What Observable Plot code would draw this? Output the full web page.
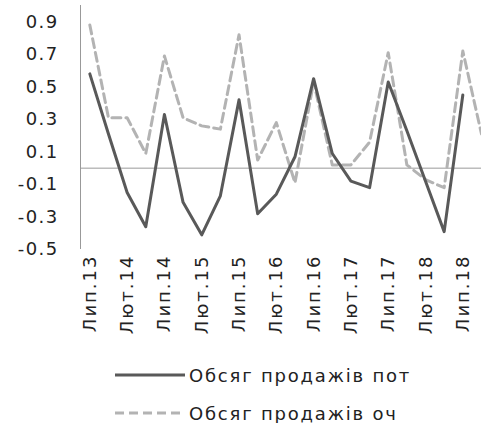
<!DOCTYPE html>
<html>
<head>
<meta charset="utf-8">
<script src="https://cdn.jsdelivr.net/npm/d3@7"></script>
<script src="https://cdn.jsdelivr.net/npm/@observablehq/plot@0.6"></script>
<style>
  body { margin: 0; background: #fff; font-family: "DejaVu Sans", Verdana, sans-serif; }
  #legend { margin-top: 11px; padding-left: 115px; color: #222; font-size: 18px; letter-spacing: 1.8px; }
  .row { display: flex; align-items: center; height: 38px; }
  .row svg { margin-right: 4px; }
</style>
</head>
<body>
<div id="chart"></div>
<div id="legend"></div>
<script>
const categories = ["Лип.13","Жов.13","Лют.14","Кві.14","Лип.14","Жов.14","Лют.15","Кві.15","Лип.15","Жов.15","Лют.16","Кві.16","Лип.16","Жов.16","Лют.17","Кві.17","Лип.17","Жов.17","Лют.18","Кві.18","Лип.18","Жов.18"];
const potValues = [0.58,0.21,-0.15,-0.36,0.33,-0.21,-0.41,-0.17,0.42,-0.28,-0.16,0.07,0.55,0.09,-0.08,-0.12,0.53,0.23,-0.08,-0.39,0.45,null];
const ochValues = [0.88,0.31,0.31,0.09,0.69,0.31,0.26,0.24,0.82,0.05,0.28,-0.09,0.53,0.02,0.02,0.16,0.71,0.02,-0.07,-0.12,0.72,0.21];
const seriesNames = ["Обсяг продажів пот", "Обсяг продажів оч"];
const yTicks = [-0.5,-0.3,-0.1,0.1,0.3,0.5,0.7,0.9];

const pot = potValues.map((v,i) => ({i, v})).filter(d => d.v != null);
const och = ochValues.map((v,i) => ({i, v})).filter(d => d.v != null);
const xTicks = categories.map((c,i) => i).filter(i => i % 2 === 0);

const chart = Plot.plot({
  width: 481,
  height: 345,
  marginLeft: 80,
  marginRight: 0,
  marginTop: 5,
  marginBottom: 96,
  style: { fontFamily: "DejaVu Sans, Verdana, sans-serif", fontSize: "18px", color: "#222", background: "#fff" },
  x: { type: "linear", domain: [-0.5, categories.length - 0.5], range: [80, 80 + categories.length * 18.65], axis: null },
  y: { domain: [-0.5, 1.0], axis: null },
  marks: [
    Plot.ruleX([-0.5], { x: d => d, stroke: "#999", strokeWidth: 1 }),
    Plot.ruleY([0], { y: d => d, stroke: "#999", strokeWidth: 1 }),
    Plot.text(yTicks, { y: d => d, text: d => d.toFixed(1), frameAnchor: "left", textAnchor: "end", dx: -22, fill: "#222", fontSize: 18 }),
    Plot.text(xTicks, { x: d => d, text: d => categories[d], frameAnchor: "bottom", textAnchor: "end", rotate: -90, dy: 5, dx: 6, fill: "#222", fontSize: 18 }),
    Plot.line(och, { x: "i", y: "v", stroke: "#b3b3b3", strokeWidth: 3, strokeDasharray: "9,5" }),
    Plot.line(pot, { x: "i", y: "v", stroke: "#595959", strokeWidth: 3 })
  ]
});
chart.querySelectorAll("g[aria-label='text']").forEach((g, k) => { g.style.letterSpacing = k === 0 ? "1.4px" : "2px"; });
document.getElementById("chart").appendChild(chart);

const legend = document.getElementById("legend");
const styles = [{ stroke: "#595959", dash: null }, { stroke: "#b3b3b3", dash: "9,5" }];
seriesNames.forEach((name, k) => {
  const row = document.createElement("div");
  row.className = "row";
  row.innerHTML = `<svg width="70" height="10"><line x1="0" y1="5" x2="70" y2="5" stroke="${styles[k].stroke}" stroke-width="3" ${styles[k].dash ? `stroke-dasharray="${styles[k].dash}"` : ""}/></svg><span>${name}</span>`;
  legend.appendChild(row);
});
</script>
</body>
</html>
